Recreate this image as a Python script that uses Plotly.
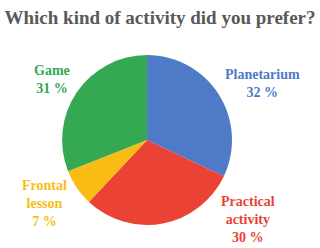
import plotly.graph_objects as go

categories = ["Planetarium", "Practical<br>activity", "Frontal<br>lesson", "Game"]
values = [32, 30, 7, 31]
colors = ["#4E7AC7", "#EA4335", "#F9BC15", "#34A853"]
title = "Which kind of activity did you prefer?"

# label anchor points (paper coords) for the outside labels
label_pos = [(0.82, 0.665), (0.775, 0.113), (0.14, 0.18), (0.163, 0.68)]

SERIF = "Liberation Serif, Times New Roman, serif"

fig = go.Figure(go.Pie(
    labels=categories,
    values=values,
    sort=False,
    direction="clockwise",
    rotation=0,
    marker=dict(colors=colors, line=dict(width=0)),
    textinfo="none",
    hoverinfo="label+percent",
    showlegend=False,
    domain=dict(x=[0.194, 0.725], y=[0.093, 0.778]),
))

anns = []
for cat, val, col, (px, py) in zip(categories, values, colors, label_pos):
    anns.append(dict(
        x=px, y=py, xref="paper", yref="paper",
        text=f"<b>{cat}<br>{val} %</b>", showarrow=False,
        font=dict(family=SERIF, size=14, color=col),
        align="center", xanchor="center", yanchor="middle",
    ))

fig.update_layout(
    width=320, height=248,
    margin=dict(l=0, r=0, t=0, b=0),
    paper_bgcolor="white", plot_bgcolor="white",
    title=dict(text=f"<b>{title}</b>", x=0.5, xanchor="center", y=0.93, yanchor="middle",
               font=dict(family=SERIF, size=19, color="#595959")),
    annotations=anns,
)

fig.write_html("out.html", config={"displayModeBar": False},
               post_script="document.body.style.margin='0';")
